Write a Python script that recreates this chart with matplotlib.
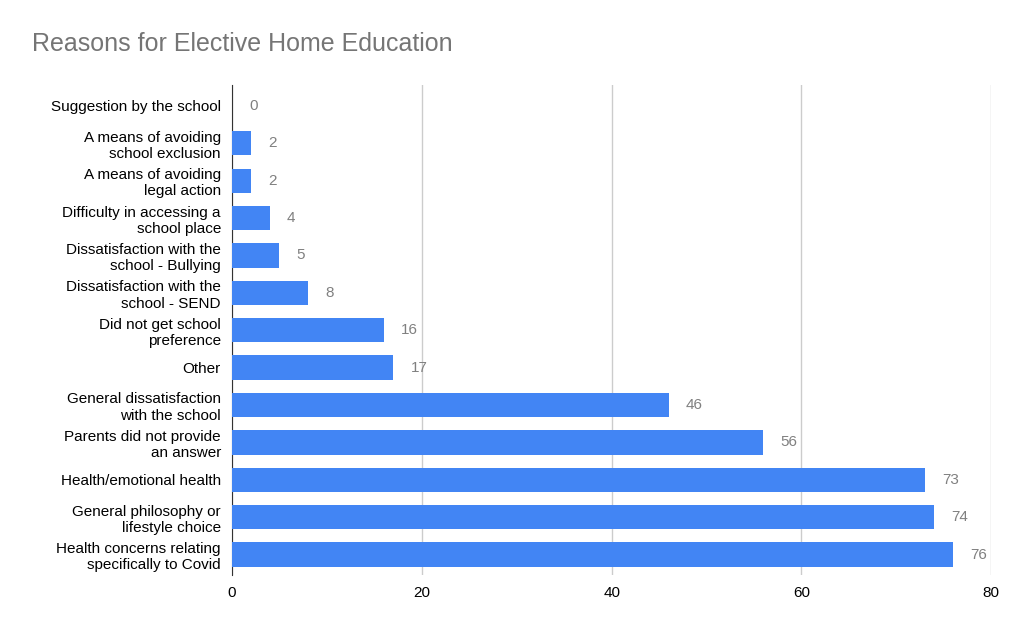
import matplotlib.pyplot as plt

categories = [
    "Suggestion by the school",
    "A means of avoiding\nschool exclusion",
    "A means of avoiding\nlegal action",
    "Difficulty in accessing a\nschool place",
    "Dissatisfaction with the\nschool - Bullying",
    "Dissatisfaction with the\nschool - SEND",
    "Did not get school\npreference",
    "Other",
    "General dissatisfaction\nwith the school",
    "Parents did not provide\nan answer",
    "Health/emotional health",
    "General philosophy or\nlifestyle choice",
    "Health concerns relating\nspecifically to Covid",
]
values = [0, 2, 2, 4, 5, 8, 16, 17, 46, 56, 73, 74, 76]
xticks = [0, 20, 40, 60, 80]

plt.rcParams['font.family'] = 'Liberation Sans'
fig = plt.figure(figsize=(10.24, 6.32), dpi=100)
ax = fig.add_axes([0.2266, 0.090, 0.7414, 0.775])
pos = list(range(len(categories)))
ax.barh(pos, values, height=0.65, color='#4285f4', zorder=3)
for p, v in zip(pos, values):
    ax.text(v + 1.8, p, str(v), va='center', ha='left', color='#808080', fontsize=11)
ax.set_yticks(pos)
ax.set_yticklabels(categories, fontsize=11)
ax.set_ylim(len(categories) - 0.45, -0.55)
ax.set_xlim(0, 80)
ax.set_xticks(xticks)
ax.tick_params(axis='x', labelsize=11, length=0, pad=8)
ax.tick_params(axis='y', length=0, pad=8)
ax.grid(axis='x', color='#cccccc', linewidth=1, zorder=0)
for s in ['top', 'right', 'bottom']:
    ax.spines[s].set_visible(False)
ax.spines['left'].set_color('#333333')
fig.text(0.031, 0.93, "Reasons for Elective Home Education", fontsize=18,
         color='#757575', va='center', ha='left')
fig.savefig('out.png')
